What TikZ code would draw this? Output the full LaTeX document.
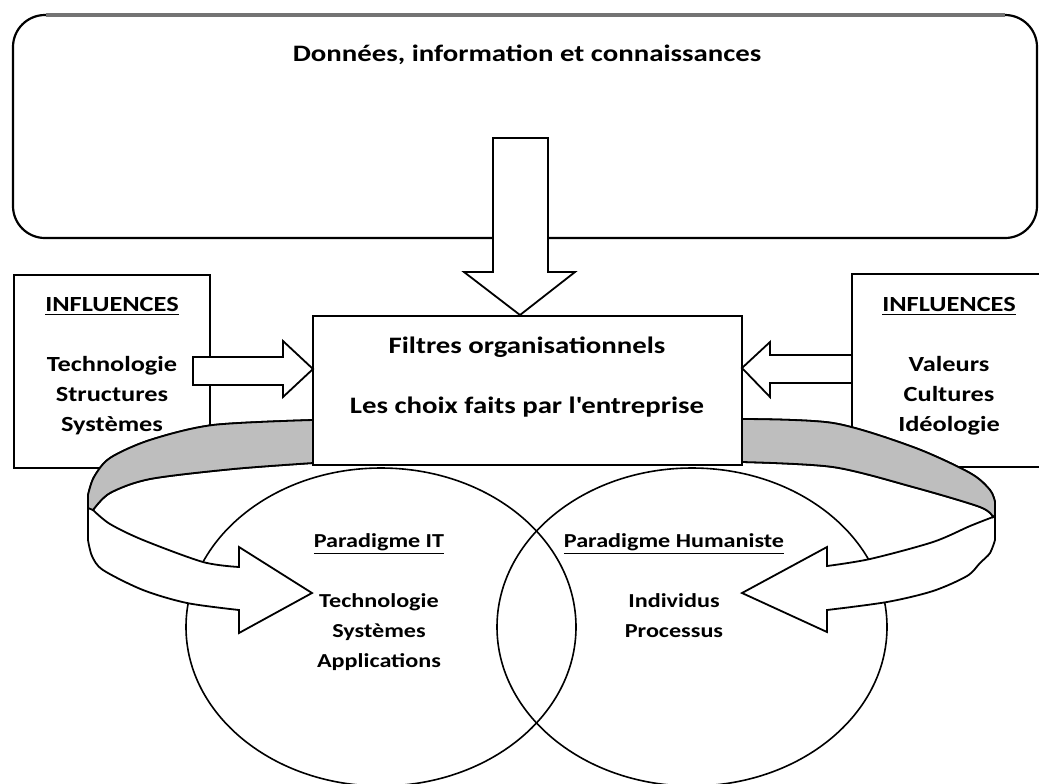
\documentclass[tikz,border=0pt]{standalone}
\usepackage{fontspec}
\setmainfont{Carlito}[FakeStretch=1.22]
\usetikzlibrary{shapes.geometric}
\definecolor{bandgray}{RGB}{190,190,190}
\definecolor{edgegray}{RGB}{115,115,115}
% stacked, centred lines whose baseline is the first line's
\newcommand\txtblock[1]{\begin{tabular}[t]{@{}c@{}}#1\end{tabular}}

\begin{document}
\begin{tikzpicture}[x=0.5pt,y=-0.5pt,
  outline/.style={draw=black,line width=0.9pt,line join=miter},
  box/.style={outline,fill=white,rectangle,inner sep=0pt,outer sep=0pt},
  txt/.style={font=\fontsize{11.8pt}{15pt}\selectfont\bfseries,inner sep=0pt,anchor=base},
  infltxt/.style={txt,font=\fontsize{10.8pt}{15pt}\selectfont\bfseries},
  circtxt/.style={txt,font=\fontsize{9.9pt}{15pt}\selectfont\bfseries},
  ring/.style={draw=black,line width=0.8pt,ellipse,inner sep=0pt,outer sep=0pt,
               minimum width=195pt,minimum height=159pt},
  blockarrow/.style={outline,fill=white},
  band/.style={outline,fill=bandgray}
]
\useasboundingbox (0,0) rectangle (1039,783);
\clip (0,0) rectangle (1039,783);

% source box at the top
\node[box,line width=1.1pt,rounded corners=16pt,minimum width=512pt,minimum height=111.5pt]
  (source) at (525,126.5) {};
\draw[edgegray,line width=1.6pt] (46,15) -- (1005,15);

% influence boxes
\node[box,minimum width=98pt,minimum height=96.5pt] (inflL) at (112,371.5) {};
\node[box,minimum width=97pt,minimum height=96.5pt] (inflR) at (949,370.5) {};

% the two paradigms
\node[ring] (paraIT)  at (381,627) {};
\node[ring] (paraHum) at (692,627) {};

% curved arrow, left side
\draw[blockarrow]
  plot[smooth] coordinates {(313,420) (213,425) (150,440) (110,458) (94,477) (88,495)}
  -- (88,540)
  -- plot[smooth] coordinates {(88,540) (92,556) (103,570) (143,590) (187,603) (239,610)}
  -- (239,633) -- (312,593) -- (239,547) -- (239,567)
  -- plot[smooth] coordinates {(239,567) (203,562) (143,540) (110,524) (93,510)}
  -- plot[smooth] coordinates {(93,510) (110,493) (150,479) (233,469) (313,463)}
  -- cycle;
\draw[band]
  plot[smooth] coordinates {(313,420) (213,425) (150,440) (110,458) (94,477) (88,495)}
  -- (88,508) -- (93,510)
  -- plot[smooth] coordinates {(93,510) (110,493) (150,479) (233,469) (313,463)}
  -- cycle;

% curved arrow, right side
\draw[blockarrow]
  plot[smooth] coordinates {(742,419) (833,423) (913,447) (970,473) (990,490) (995,502)}
  -- (995,540)
  -- plot[smooth] coordinates {(995,540) (990,553) (980,563) (967,576) (933,591) (887,602) (827,610)}
  -- (827,632) -- (742,593) -- (827,547) -- (827,566)
  -- plot[smooth] coordinates {(827,566) (870,559) (933,542) (970,526) (993,517)}
  -- plot[smooth] coordinates {(993,517) (980,507) (913,487) (833,467) (742,462)}
  -- cycle;
\draw[band]
  plot[smooth] coordinates {(742,419) (833,423) (913,447) (970,473) (990,490) (995,502)}
  -- (995,515) -- (993,517)
  -- plot[smooth] coordinates {(993,517) (980,507) (913,487) (833,467) (742,462)}
  -- cycle;

% organisational filters
\node[box,minimum width=214.5pt,minimum height=74.5pt] (filt) at (527.5,390.5) {};

% straight block arrows into the filters
\draw[blockarrow] (193,357) -- (283,357) -- (283,341) -- (313,369)
  -- (283,397) -- (283,385) -- (193,385) -- cycle;
\draw[blockarrow] (852,355) -- (770,355) -- (770,342) -- (742,368)
  -- (770,397) -- (770,383) -- (852,383) -- cycle;
\draw[blockarrow] (493,138) -- (548,138) -- (548,272) -- (575,272)
  -- (520,315) -- (464,272) -- (493,272) -- cycle;

% texts
\node[txt] (title) at (527,61) {Données, information et connaissances};
\node[infltxt] (inflLtxt) at (112,311)
  {\txtblock{\underline{INFLUENCES}\\ \\ Technologie\\ Structures\\ Systèmes}};
\node[infltxt] (inflRtxt) at (949,311)
  {\txtblock{\underline{INFLUENCES}\\ \\ Valeurs\\ Cultures\\ Idéologie}};
\node[txt] (filttxt) at (527,353)
  {\txtblock{Filtres organisationnels\\ \\ Les choix faits par l\textquotesingle entreprise}};
\node[circtxt] (ittxt) at (379,547)
  {\txtblock{\underline{Paradigme IT}\\ \\ Technologie\\ Systèmes\\ Applications}};
\node[circtxt] (humtxt) at (674,547)
  {\txtblock{\underline{Paradigme Humaniste}\\ \\ Individus\\ Processus}};
\end{tikzpicture}
\end{document}
